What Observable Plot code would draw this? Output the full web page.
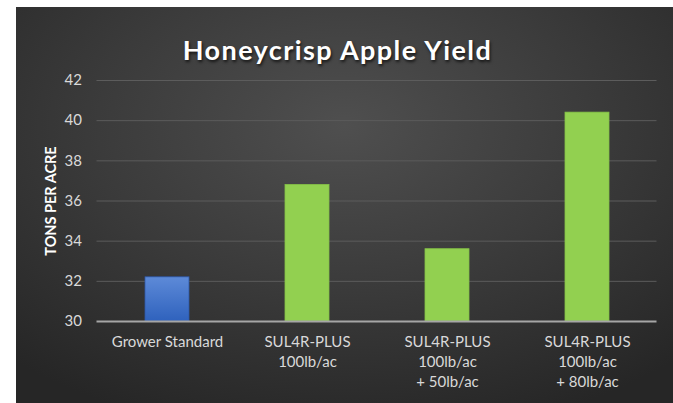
<!DOCTYPE html>
<html>
<head>
<meta charset="utf-8">
<script src="https://cdn.jsdelivr.net/npm/d3@7"></script>
<script src="https://cdn.jsdelivr.net/npm/@observablehq/plot@0.6"></script>
<style>
  html, body { margin: 0; padding: 0; background: #ffffff; overflow: hidden; }
  #chart {
    position: absolute; left: 16px; top: 7px; right: 0; bottom: 0; min-width: 657px; min-height: 396px;
    background: radial-gradient(ellipse 75% 80% at 50% 30%, #4f4f4f 0%, #3b3b3b 50%, #262626 100%);
    font-family: Lato, "Open Sans", sans-serif;
  }
  #title {
    box-sizing: border-box; width: 657px; height: 62px; padding-top: 30px; padding-right: 14px;
    font-size: 27px; line-height: 26px; font-weight: bold; letter-spacing: 1.4px;
    color: #ffffff; text-align: center; text-shadow: 1px 2px 3px rgba(0,0,0,0.7);
  }
  svg { display: block; }
</style>
</head>
<body>
<div id="chart"><div id="title">Honeycrisp Apple Yield</div></div>
<script>
const categories = ["Grower Standard", "SUL4R-PLUS 100lb/ac", "SUL4R-PLUS 100lb/ac + 50lb/ac", "SUL4R-PLUS 100lb/ac + 80lb/ac"];
const tickLabels = ["Grower Standard", "SUL4R-PLUS\n100lb/ac", "SUL4R-PLUS\n100lb/ac\n+ 50lb/ac", "SUL4R-PLUS\n100lb/ac\n+ 80lb/ac"];
const yields = [32.2, 36.8, 33.6, 40.4];
const yTicks = [30, 32, 34, 36, 38, 40, 42];

const data = categories.map((c, i) => ({category: c, value: yields[i]}));
const labelOf = new Map(categories.map((c, i) => [c, tickLabels[i]]));

const plot = Plot.plot({
  width: 657,
  height: 334,
  marginTop: 11,
  marginBottom: 82,
  marginLeft: 80.5,
  marginRight: 16.5,
  style: {background: "transparent", fontFamily: "Lato, 'Open Sans', sans-serif", fontSize: "15px", color: "#d9d9d9", overflow: "visible"},
  x: {domain: categories, paddingInner: 0.686, paddingOuter: 0.343, align: 0.5},
  y: {domain: [30, 42], ticks: yTicks},
  marks: [
    Plot.gridY(yTicks.slice(1), {stroke: "#5c5c5c", strokeOpacity: 1, strokeWidth: 1}),
    Plot.barY(data, {
      x: "category", y1: 30, y2: "value",
      fill: d => d.category === "Grower Standard" ? "url(#blueGrad)" : "#92d050",
      stroke: d => d.category === "Grower Standard" ? "#2d58a8" : "#84c146",
      strokeWidth: 0.8
    }),
    Plot.ruleY([30], {stroke: "#a6a6a6", strokeWidth: 2}),
    Plot.axisY(yTicks, {tickSize: 0, tickPadding: 15, label: null, fill: "#d9d9d9", fontSize: 15}),
    Plot.axisX({tickSize: 0, tickPadding: 11, label: null, tickFormat: c => labelOf.get(c), lineHeight: 1.35, fill: "#d9d9d9", fontSize: 15}),
    Plot.text(["TONS PER ACRE"], {frameAnchor: "left", textAnchor: "middle", lineAnchor: "middle", rotate: -90, dx: -46, fill: "#ffffff", fontWeight: "bold", fontSize: 14.5, text: d => d})
  ]
});

// gradient definition for the blue bar
const svgSel = d3.select(plot);
const defs = svgSel.insert("defs", ":first-child");
const grad = defs.append("linearGradient").attr("id", "blueGrad").attr("x1", 0).attr("y1", 0).attr("x2", 0).attr("y2", 1);
grad.append("stop").attr("offset", "0%").attr("stop-color", "#5d8ad8");
grad.append("stop").attr("offset", "100%").attr("stop-color", "#2f62bd");

document.getElementById("chart").appendChild(plot);
</script>
</body>
</html>
